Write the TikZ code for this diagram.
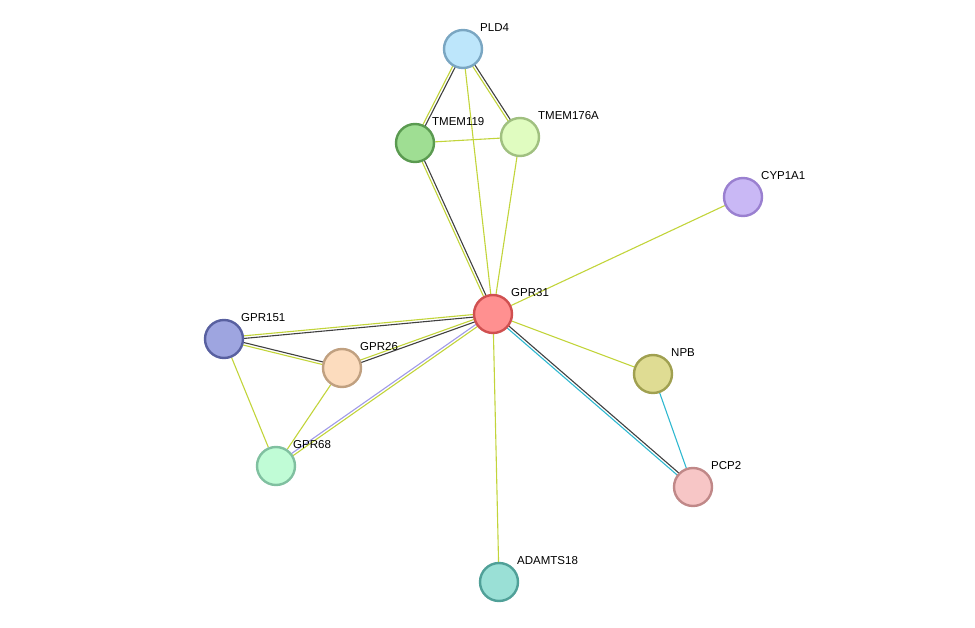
\documentclass[tikz,border=0pt]{standalone}
\usepackage{fontspec}
\setmainfont{Liberation Sans}
\usetikzlibrary{calc,backgrounds}

\definecolor{txtm}{HTML}{C2D43A}
\definecolor{coex}{HTML}{2FB8D0}
\definecolor{homol}{HTML}{A09AE8}
\definecolor{fPLD}{HTML}{BDE6FB}\definecolor{dPLD}{HTML}{7AA6C2}
\definecolor{fTMa}{HTML}{9FDE93}\definecolor{dTMa}{HTML}{5A9A50}
\definecolor{fTMb}{HTML}{E0FCC0}\definecolor{dTMb}{HTML}{A0C080}
\definecolor{fCYP}{HTML}{C9B8F5}\definecolor{dCYP}{HTML}{9A80D0}
\definecolor{fGa}{HTML}{FF9090}\definecolor{dGa}{HTML}{D05050}
\definecolor{fGb}{HTML}{9EA5E0}\definecolor{dGb}{HTML}{5860A0}
\definecolor{fGc}{HTML}{FCDCBE}\definecolor{dGc}{HTML}{C0A080}
\definecolor{fNPB}{HTML}{DFDC93}\definecolor{dNPB}{HTML}{A0A050}
\definecolor{fGd}{HTML}{C0FCD6}\definecolor{dGd}{HTML}{80C0A0}
\definecolor{fPCP}{HTML}{F7C6C6}\definecolor{dPCP}{HTML}{C08888}
\definecolor{fADA}{HTML}{9AE0D6}\definecolor{dADA}{HTML}{50A098}

\tikzset{
	prot/.style={circle, draw, line width=2.4pt, minimum size=38pt, inner sep=0pt},
	lab/.style={anchor=south west, font=\fontsize{11.5}{13}\selectfont, inner sep=1pt},
	edge/.style={line width=1.1pt}
}
% two lines next to each other
\newcommand{\pairedge}[4]{
	\draw[edge,#3] ($(#1)!1.3pt!90:(#2)$) -- ($(#2)!1.3pt!-90:(#1)$);
	\draw[edge,#4] ($(#1)!1.3pt!-90:(#2)$) -- ($(#2)!1.3pt!90:(#1)$);
}

\begin{document}
\begin{tikzpicture}[x=1pt,y=-1pt]
	\useasboundingbox (0,0) rectangle (975,628);

	\node[prot, fill=fPLD, draw=dPLD] (pld) at (463,49) {};
	\node[prot, fill=fTMa, draw=dTMa] (tm119) at (415,143) {};
	\node[prot, fill=fTMb, draw=dTMb] (tm176) at (520,137) {};
	\node[prot, fill=fCYP, draw=dCYP] (cyp) at (743,197) {};
	\node[prot, fill=fGa, draw=dGa] (gpr31) at (493,314) {};
	\node[prot, fill=fGb, draw=dGb] (gpr151) at (224,339) {};
	\node[prot, fill=fGc, draw=dGc] (gpr26) at (342,368) {};
	\node[prot, fill=fNPB, draw=dNPB] (npb) at (653,374) {};
	\node[prot, fill=fGd, draw=dGd] (gpr68) at (276,466) {};
	\node[prot, fill=fPCP, draw=dPCP] (pcp) at (693,487) {};
	\node[prot, fill=fADA, draw=dADA] (adam) at (499,582) {};

	\node[lab] at (479,33) {PLD4};
	\node[lab] at (431,127) {TMEM119};
	\node[lab] at (537,121) {TMEM176A};
	\node[lab] at (760,181) {CYP1A1};
	\node[lab] at (510,298) {GPR31};
	\node[lab] at (240,323) {GPR151};
	\node[lab] at (359,352) {GPR26};
	\node[lab] at (670,358) {NPB};
	\node[lab] at (292,450) {GPR68};
	\node[lab] at (710,471) {PCP2};
	\node[lab] at (516,566) {ADAMTS18};

	\begin{scope}[on background layer]
		\pairedge{pld}{tm119}{black!75}{txtm}
		\pairedge{pld}{tm176}{black!75}{txtm}
		\draw[edge,txtm] (pld) -- (gpr31);
		\draw[edge,txtm] (tm119) -- (tm176);
		\pairedge{tm119}{gpr31}{black!75}{txtm}
		\draw[edge,txtm] (tm176) -- (gpr31);
		\draw[edge,txtm] (cyp) -- (gpr31);
		\pairedge{gpr31}{gpr151}{black!75}{txtm}
		\pairedge{gpr31}{gpr26}{black!75}{txtm}
		\pairedge{gpr31}{gpr68}{txtm}{homol}
		\draw[edge,txtm] (gpr31) -- (npb);
		\pairedge{gpr31}{pcp}{black!75}{coex}
		\draw[edge,txtm] (gpr31) -- (adam);
		\pairedge{gpr151}{gpr26}{black!75}{txtm}
		\draw[edge,txtm] (gpr151) -- (gpr68);
		\draw[edge,txtm] (gpr26) -- (gpr68);
		\draw[edge,coex] (npb) -- (pcp);
	\end{scope}
\end{tikzpicture}
\end{document}
